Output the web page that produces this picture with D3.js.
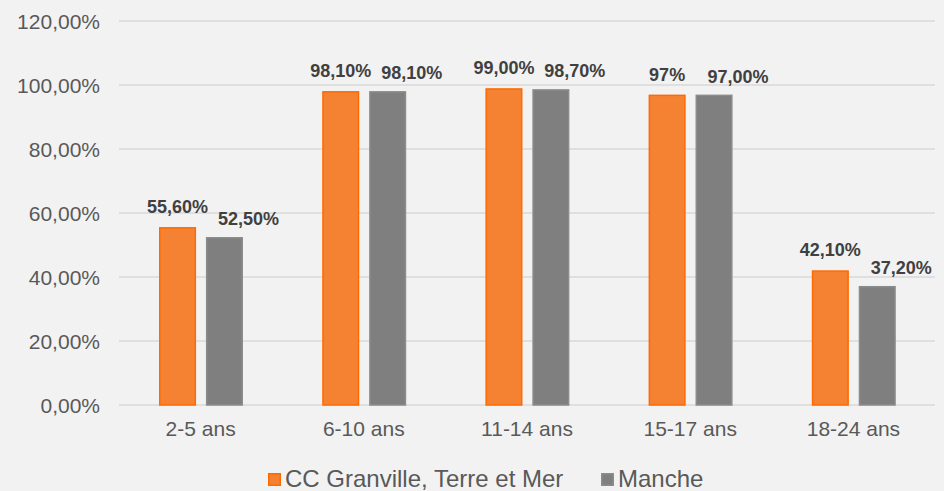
<!DOCTYPE html>
<html><head><meta charset="utf-8">
<script src="https://cdn.jsdelivr.net/npm/d3@7"></script>
<style>
html,body{margin:0;padding:0;background:#f2f2f2;}
svg{display:block;font-family:"Liberation Sans",Arial,sans-serif;}
</style></head>
<body>
<svg id="c" width="944" height="491"></svg>
<script>
const categories = ["2-5 ans","6-10 ans","11-14 ans","15-17 ans","18-24 ans"];
const seriesNames = ["CC Granville, Terre et Mer","Manche"];
const granville = [55.6, 98.1, 99.0, 97.0, 42.1];
const granvilleLabels = ["55,60%","98,10%","99,00%","97%","42,10%"];
const manche = [52.5, 98.1, 98.7, 97.0, 37.2];
const mancheLabels = ["52,50%","98,10%","98,70%","97,00%","37,20%"];
const yTicks = [0,20,40,60,80,100,120];
const yTickLabels = ["0,00%","20,00%","40,00%","60,00%","80,00%","100,00%","120,00%"];

(function(){
const colors = {fill:["#f58233","#7f7f7f"], stroke:["#ff6a00","#8c8c8c"]};
const svg = d3.select("#c");
svg.append("rect").attr("width",944).attr("height",491).attr("fill","#f2f2f2");

const mLeft = 119, mRight = 935, mTop = 21, mBottom = 405;
const y = d3.scaleLinear().domain([0,120]).range([mBottom, mTop]);
const x0 = d3.scaleBand().domain(categories).range([mLeft, mRight]);
const x1 = d3.scaleBand().domain(seriesNames).range([40, 124]).paddingInner(0.21);

svg.append("g").selectAll("line").data(yTicks).join("line")
  .attr("x1", mLeft).attr("x2", mRight)
  .attr("y1", d=>y(d)).attr("y2", d=>y(d))
  .attr("stroke","#d9d9d9").attr("stroke-width",1.5);

const yAxis = d3.axisLeft(y).tickValues(yTicks).tickSize(0).tickPadding(0)
  .tickFormat((d,i)=>yTickLabels[i]);
const ya = svg.append("g").attr("transform","translate(100,0)").call(yAxis);
ya.select(".domain").remove();
ya.selectAll("text").attr("font-size",21).attr("fill","#595959")
  .attr("font-family","Liberation Sans, Arial, sans-serif").attr("dy","0.35em");

const xAxis = d3.axisBottom(x0).tickSize(0).tickPadding(0);
const xa = svg.append("g").attr("transform",`translate(0,${mBottom})`).call(xAxis);
xa.select(".domain").remove();
xa.selectAll("text").attr("font-size",21).attr("fill","#595959")
  .attr("font-family","Liberation Sans, Arial, sans-serif").attr("dy",null).attr("y",31);

const series = [
  {name:seriesNames[0], values:granville, labels:granvilleLabels, dx:0, gap:14},
  {name:seriesNames[1], values:manche, labels:mancheLabels, dx:24, gap:12}
];

series.forEach((s,si)=>{
  const g = svg.append("g");
  const data = categories.map((c,i)=>({c, v:s.values[i], l:s.labels[i]}));
  g.selectAll("rect").data(data).join("rect")
    .attr("x", d=>x0(d.c)+x1(s.name)+0.75)
    .attr("width", x1.bandwidth()-1.5)
    .attr("y", d=>y(d.v)+0.75)
    .attr("height", d=>mBottom - y(d.v)-0.75)
    .attr("fill", colors.fill[si]).attr("stroke", colors.stroke[si]).attr("stroke-width",1.5);
  g.selectAll("text").data(data).join("text")
    .attr("x", d=>x0(d.c)+x1(s.name)+x1.bandwidth()/2 + s.dx)
    .attr("y", d=>y(d.v)-s.gap)
    .attr("text-anchor","middle")
    .attr("font-size",18).attr("font-weight","bold").attr("fill","#404040")
    .text(d=>d.l);
});

const leg = svg.append("g");
const legItems = [{x:268, name:seriesNames[0]},{x:601, name:seriesNames[1]}];
legItems.forEach((it,i)=>{
  leg.append("rect").attr("x",it.x+0.75).attr("y",473.75).attr("width",11.5).attr("height",11.5)
    .attr("fill",colors.fill[i]).attr("stroke",colors.stroke[i]).attr("stroke-width",1.5);
  leg.append("text").attr("x",it.x+17).attr("y",487).attr("font-size",24).attr("fill","#595959")
    .text(it.name);
});
})();
</script>
</body></html>
